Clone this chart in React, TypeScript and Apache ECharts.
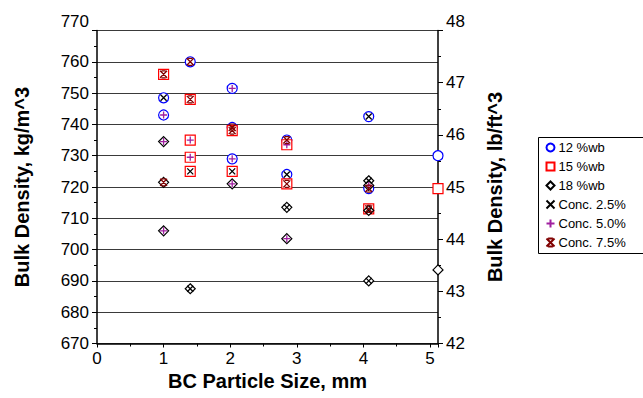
import React, { useEffect, useRef } from 'react';
import * as echarts from 'echarts';

// [particle size mm, bulk density kg/m^3, concentration % (null = none)]
const wb12: (number | null)[][] = [
  [1.0, 748.5, 2.5], [1.0, 743, 5.0], [1.4, 760, 7.5], [2.03, 751.5, 5.0],
  [2.03, 739, 7.5], [2.03, 729, 5.0], [2.85, 735, 7.5], [2.85, 724, 2.5],
  [4.08, 742.5, 2.5], [4.08, 719.5, 7.5], [5.12, 730, null],
];
const wb15: (number | null)[][] = [
  [1.0, 756, 7.5], [1.4, 748, 7.5], [1.4, 735, 5.0], [1.4, 729.5, 5.0],
  [1.4, 725, 2.5], [2.03, 738, 7.5], [2.03, 725, 2.5], [2.85, 733.5, 5.0],
  [2.85, 721, 7.5], [4.08, 713, 7.5], [5.12, 719.5, null],
];
const wb18: (number | null)[][] = [
  [1.0, 734.5, 5.0], [1.0, 721.5, 7.5], [1.0, 706, 5.0], [1.4, 687.5, 2.5],
  [2.03, 721, 5.0], [2.85, 713.5, 2.5], [2.85, 703.5, 5.0], [4.08, 722, 2.5],
  [4.08, 720.5, 5.0], [4.08, 712.5, 2.5], [4.08, 690, 2.5], [5.12, 693.5, null],
];
const concLevels = [2.5, 5.0, 7.5];
const moistureNames = ['12 %wb', '15 %wb', '18 %wb'];
const concNames = ['Conc. 2.5%', 'Conc. 5.0%', 'Conc. 7.5%'];

const FONT = 'Liberation Sans, Arial, sans-serif';
const xPath = 'path://M0,0L10,10M10,0L0,10';
const plusPath = 'path://M5,0L5,10M0,5L10,5';
const starPath = 'path://M0,0L10,10M10,0L0,10M2,0L8,0M2,10L8,10';

export default function App() {
  const ref = useRef<HTMLDivElement>(null);
  useEffect(() => {
    if (!ref.current) return;
    const chart = echarts.init(ref.current, undefined, { renderer: 'svg' });
    const allPts = [wb12, wb15, wb18];
    const moistStyles = [
      { symbol: 'circle', size: 10, color: '#0000FF' },
      { symbol: 'rect', size: 10, color: '#FF0000' },
      { symbol: 'diamond', size: 10, color: '#000000' },
    ];
    const concStyles = [
      { symbol: xPath, size: 6, color: '#000000' },
      { symbol: plusPath, size: 7, color: '#A020A0' },
      { symbol: starPath, size: 7, color: '#800000' },
    ];
    const series: any[] = [];
    moistureNames.forEach((name, i) => {
      const s = moistStyles[i];
      series.push({
        type: 'scatter', name, symbol: s.symbol, symbolSize: s.size,
        data: allPts[i].map((p) => [p[0], p[1]]),
        itemStyle: { color: '#ffffff', borderColor: s.color, borderWidth: 1.2, opacity: 1 },
        emphasis: { disabled: true },
      });
    });
    concNames.forEach((name, j) => {
      const s = concStyles[j];
      const pts: number[][] = [];
      allPts.forEach((arr) => arr.forEach((p) => { if (p[2] === concLevels[j]) pts.push([p[0] as number, p[1] as number]); }));
      series.push({
        type: 'scatter', name, symbol: s.symbol, symbolSize: s.size, data: pts,
        itemStyle: { color: 'none', borderColor: s.color, borderWidth: 1.3, opacity: 1 },
        emphasis: { disabled: true },
      });
    });
    const tickLabel = { fontFamily: FONT, fontSize: 17, color: '#000' };
    const nameStyle = { fontFamily: FONT, fontSize: 20, fontWeight: 'bold' as const, color: '#000' };
    chart.setOption({
      animation: false,
      grid: { left: 97, right: 205, top: 30.5, bottom: 54.5, containLabel: false },
      graphic: [
        {
          type: 'rect', left: 538, top: 137, z: 0,
          shape: { x: 0, y: 0, width: 200, height: 116 },
          style: { fill: '#fff', stroke: '#000', lineWidth: 1 },
        },
      ],
      legend: {
        orient: 'vertical', left: 538, top: 135,
        data: [...moistureNames, ...concNames],
        itemWidth: 8, itemHeight: 8, itemGap: 6,
        padding: [6, 6, 6, 6],
        textStyle: { fontFamily: FONT, fontSize: 13, color: '#000', padding: [0, 0, 0, -1] },
        selectedMode: false, z: 5,
      },
      xAxis: {
        type: 'value', min: 0, max: 5.12, interval: 1,
        name: 'BC Particle Size, mm', nameLocation: 'middle', nameGap: 25,
        nameTextStyle: nameStyle,
        axisLine: { show: true, lineStyle: { color: '#000', width: 1.5 } },
        axisTick: { show: true, length: 4, lineStyle: { color: '#000' } },
        minorTick: { show: true, splitNumber: 2, length: 3, lineStyle: { color: '#000' } },
        splitLine: { show: false },
        axisLabel: { ...tickLabel, margin: 6, formatter: (v: number) => (Number.isInteger(v) ? String(v) : '') },
      },
      yAxis: [
        {
          type: 'value', min: 670, max: 770, interval: 10,
          name: 'Bulk Density, kg/m^3', nameLocation: 'middle', nameGap: 65, nameRotate: 90,
          nameTextStyle: nameStyle,
          axisLine: { show: true, onZero: false, lineStyle: { color: '#000', width: 1.5 } },
          axisTick: { show: true, length: 5, lineStyle: { color: '#000' } },
          minorTick: { show: true, splitNumber: 2, length: 3, lineStyle: { color: '#000' } },
          splitLine: { show: true, lineStyle: { color: '#3a3a3a', width: 1 } },
          axisLabel: {
            ...tickLabel, margin: 8,
            formatter: (v: number) => (v === 770 ? '{top|770}' : String(v)),
            rich: { top: { ...tickLabel, padding: [0, 0, 18, 0] } },
          },
        },
        {
          type: 'value', min: 42, max: 48, interval: 1, position: 'right',
          name: 'Bulk Density, lb/ft^3', nameLocation: 'middle', nameGap: 47, nameRotate: 90,
          nameTextStyle: nameStyle,
          axisLine: { show: true, onZero: false, lineStyle: { color: '#000', width: 1.5 } },
          axisTick: { show: true, length: 5, lineStyle: { color: '#000' } },
          minorTick: { show: true, splitNumber: 2, length: 3, lineStyle: { color: '#000' } },
          splitLine: { show: false },
          axisLabel: {
            ...tickLabel, margin: 8,
            formatter: (v: number) => (v === 48 ? '{top|48}' : String(v)),
            rich: { top: { ...tickLabel, padding: [0, 0, 18, 0] } },
          },
        },
      ],
      series,
    });
    return () => chart.dispose();
  }, []);
  return <div ref={ref} style={{ width: 643, height: 398, position: 'absolute', left: 0, top: 0, background: '#fff' }} />;
}
